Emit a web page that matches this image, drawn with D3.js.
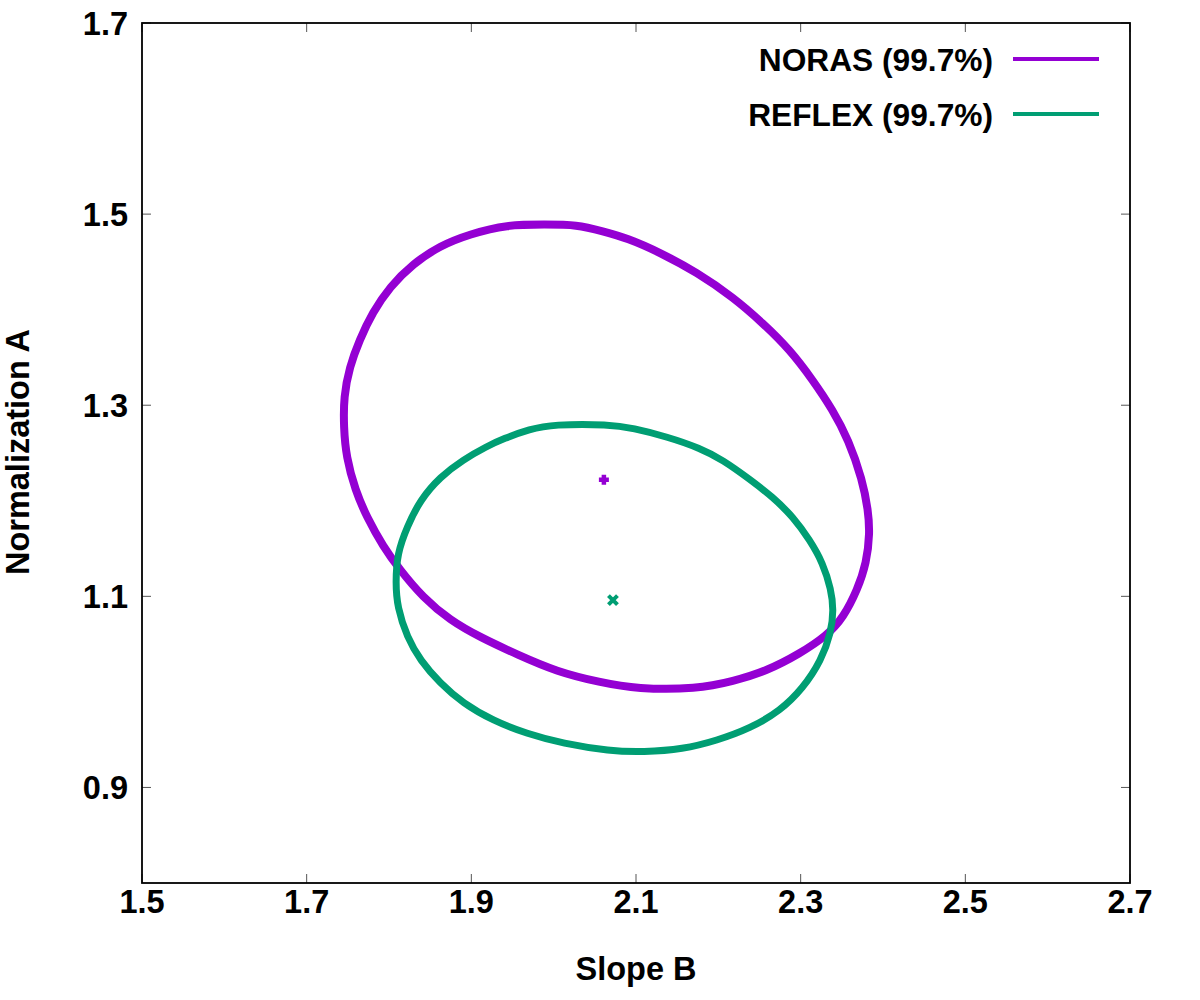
<!DOCTYPE html>
<html>
<head>
<meta charset="utf-8">
<script src="https://cdn.jsdelivr.net/npm/d3@7"></script>
<style>
  body { margin: 0; background: #fff; }
  text { font-family: "Liberation Sans", Arial, sans-serif; font-weight: bold; }
</style>
</head>
<body>
<svg id="chart" width="1200" height="1000"></svg>
<script>
// contour points: [slope B, normalization A]
const norasContour = [
  [1.943, 1.489], [1.990, 1.489], [2.028, 1.489], [2.060, 1.482], [2.089, 1.475],
  [2.129, 1.460], [2.174, 1.439], [2.218, 1.413], [2.254, 1.386], [2.287, 1.358],
  [2.315, 1.326], [2.339, 1.295], [2.358, 1.264], [2.375, 1.222], [2.382, 1.190],
  [2.384, 1.166], [2.380, 1.135], [2.369, 1.107], [2.352, 1.078], [2.332, 1.059],
  [2.299, 1.040], [2.259, 1.022], [2.218, 1.011], [2.174, 1.003], [2.101, 1.003],
  [2.056, 1.010], [2.004, 1.021], [1.956, 1.039], [1.911, 1.057], [1.874, 1.075],
  [1.841, 1.099], [1.813, 1.128], [1.793, 1.152], [1.773, 1.183], [1.759, 1.211],
  [1.748, 1.246], [1.745, 1.277], [1.745, 1.309], [1.752, 1.340], [1.764, 1.368],
  [1.780, 1.397], [1.801, 1.424], [1.829, 1.448], [1.862, 1.467], [1.898, 1.479]
];

const reflexContour = [
  [1.999, 1.280], [2.068, 1.280], [2.096, 1.276], [2.138, 1.267], [2.178, 1.255],
  [2.205, 1.243], [2.239, 1.222], [2.266, 1.204], [2.291, 1.183], [2.311, 1.159],
  [2.327, 1.135], [2.337, 1.107], [2.340, 1.086], [2.337, 1.062], [2.325, 1.033],
  [2.303, 1.004], [2.275, 0.980], [2.239, 0.962], [2.198, 0.949], [2.157, 0.940],
  [2.109, 0.937], [2.068, 0.938], [2.011, 0.946], [1.968, 0.956], [1.926, 0.970],
  [1.890, 0.988], [1.862, 1.009], [1.838, 1.033], [1.822, 1.057], [1.810, 1.089],
  [1.808, 1.114], [1.810, 1.145], [1.822, 1.173], [1.838, 1.201], [1.862, 1.225],
  [1.890, 1.243], [1.919, 1.257], [1.939, 1.265], [1.971, 1.275]
];

// best-fit values
const norasBest = [2.061, 1.222];
const reflexBest = [2.072, 1.096];

const seriesNames = ["NORAS (99.7%)", "REFLEX (99.7%)"];
const seriesColors = ["#9400d3", "#009e73"];

const xTicks = [1.5, 1.7, 1.9, 2.1, 2.3, 2.5, 2.7];
const yTicks = [0.9, 1.1, 1.3, 1.5, 1.7];

// -----------------------
const margin = { top: 23, right: 70, bottom: 117, left: 142 };
const width = 1200 - margin.left - margin.right;
const height = 1000 - margin.top - margin.bottom;
const fontSize = 32.5;
const legendFontSize = 31.7;

const svg = d3.select("#chart");
const g = svg.append("g").attr("transform", `translate(${margin.left},${margin.top})`);

const x = d3.scaleLinear().domain([1.5, 2.7]).range([0, width]);
const y = d3.scaleLinear().domain([0.8, 1.7]).range([height, 0]);

// ticks inward on all four sides
const tickLen = 9;
const tickColor = "#555";

g.selectAll(".xt")
  .data(xTicks)
  .join("g")
  .each(function (d) {
    const t = d3.select(this);
    t.append("line").attr("x1", x(d)).attr("x2", x(d)).attr("y1", height).attr("y2", height - tickLen)
      .attr("stroke", tickColor).attr("stroke-width", 1);
    t.append("line").attr("x1", x(d)).attr("x2", x(d)).attr("y1", 0).attr("y2", tickLen)
      .attr("stroke", tickColor).attr("stroke-width", 1);
    t.append("text").attr("x", x(d)).attr("y", height + 30)
      .attr("text-anchor", "middle").attr("font-size", fontSize).text(d.toFixed(1));
  });

g.selectAll(".yt")
  .data(yTicks)
  .join("g")
  .each(function (d) {
    const t = d3.select(this);
    t.append("line").attr("x1", 0).attr("x2", tickLen).attr("y1", y(d)).attr("y2", y(d))
      .attr("stroke", tickColor).attr("stroke-width", 1);
    t.append("line").attr("x1", width).attr("x2", width - tickLen).attr("y1", y(d)).attr("y2", y(d))
      .attr("stroke", tickColor).attr("stroke-width", 1);
    t.append("text").attr("x", -14).attr("y", y(d) + 11.5)
      .attr("text-anchor", "end").attr("font-size", fontSize).text(d.toFixed(1));
  });

// contours
const line = d3.line()
  .x(d => x(d[0]))
  .y(d => y(d[1]))
  .curve(d3.curveBasisClosed);

g.append("path")
  .attr("d", line(norasContour))
  .attr("fill", "none")
  .attr("stroke", seriesColors[0])
  .attr("stroke-width", 8);

g.append("path")
  .attr("d", line(reflexContour))
  .attr("fill", "none")
  .attr("stroke", seriesColors[1])
  .attr("stroke-width", 7);

// best-fit markers: plus for NORAS, cross for REFLEX
const px = x(norasBest[0]), py = y(norasBest[1]);
g.append("path")
  .attr("d", `M${px - 5},${py}H${px + 5}M${px},${py - 5}V${py + 5}`)
  .attr("stroke", seriesColors[0]).attr("stroke-width", 4.5);

const cx = x(reflexBest[0]), cy = y(reflexBest[1]);
g.append("path")
  .attr("d", `M${cx - 4.5},${cy - 4.5}L${cx + 4.5},${cy + 4.5}M${cx - 4.5},${cy + 4.5}L${cx + 4.5},${cy - 4.5}`)
  .attr("stroke", seriesColors[1]).attr("stroke-width", 4);

// frame
g.append("rect")
  .attr("width", width).attr("height", height)
  .attr("fill", "none").attr("stroke", "#000").attr("stroke-width", 1.8);

// legend
const legendY = [59, 114];
seriesNames.forEach((name, i) => {
  svg.append("text").attr("x", 993).attr("y", legendY[i] + 12)
    .attr("text-anchor", "end").attr("font-size", legendFontSize).text(name);
  svg.append("line").attr("x1", 1013).attr("x2", 1099)
    .attr("y1", legendY[i]).attr("y2", legendY[i])
    .attr("stroke", seriesColors[i]).attr("stroke-width", 4);
});

// axis labels
svg.append("text").attr("x", margin.left + width / 2).attr("y", 980)
  .attr("text-anchor", "middle").attr("font-size", fontSize).text("Slope B");

svg.append("text")
  .attr("transform", `translate(29, 452) rotate(-90)`)
  .attr("text-anchor", "middle").attr("font-size", fontSize).text("Normalization A");
</script>
</body>
</html>
